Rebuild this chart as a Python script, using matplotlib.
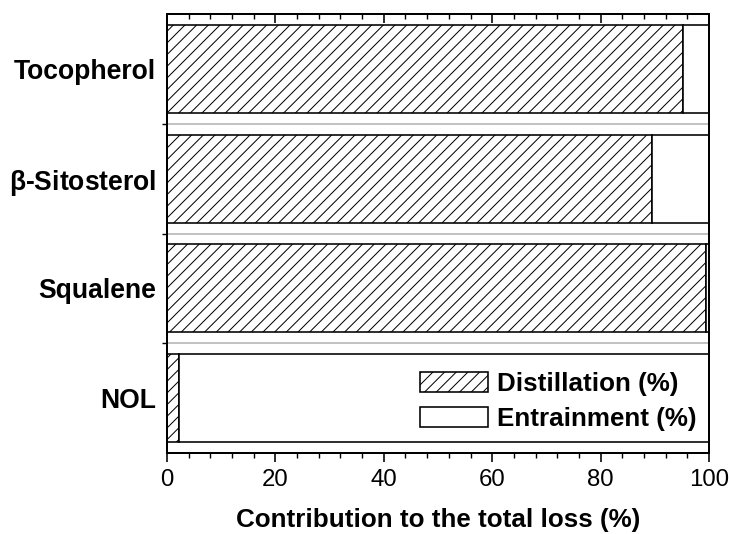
import numpy as np
import matplotlib
matplotlib.use("Agg")
import matplotlib.pyplot as plt
from matplotlib.ticker import MultipleLocator, FixedLocator

# data (bottom to top)
compounds = ['NOL', 'Squalene', r'$\mathbf{\beta}$-Sitosterol', 'Tocopherol']
distillation = np.array([2.3, 99.5, 89.4, 95.2])
entrainment = 100 - distillation
series_names = ['Distillation (%)', 'Entrainment (%)']

DPI = 140


def pt(px):
    # pixel size -> points for this dpi
    return px * 72.0 / DPI


plt.rcParams['hatch.linewidth'] = pt(1.0)
plt.rcParams['font.family'] = ['Liberation Sans', 'DejaVu Sans']
plt.rcParams['mathtext.fontset'] = 'custom'
plt.rcParams['mathtext.bf'] = 'Liberation Sans:bold'
plt.rcParams['mathtext.rm'] = 'Liberation Sans'

fig = plt.figure(figsize=(729 / DPI, 534 / DPI), dpi=DPI)
ax = fig.add_axes([167 / 729, 1 - 453 / 534, 542 / 729, 439 / 534])

y = np.arange(len(compounds))
ax.barh(y, distillation, height=0.8, color='white', edgecolor='black',
        hatch='////', linewidth=pt(1.6), label=series_names[0], zorder=3)
ax.barh(y, entrainment, left=distillation, height=0.8, color='white',
        edgecolor='black', linewidth=pt(1.6), label=series_names[1], zorder=3)

# light separators between categories
for b in y[:-1] + 0.5:
    ax.axhline(b, color='#b4b4b4', lw=pt(1.6), zorder=1)

ax.set_xlim(0, 100)
ax.set_ylim(-0.5, len(compounds) - 0.5)

ax.xaxis.set_major_locator(MultipleLocator(20))
ax.xaxis.set_minor_locator(MultipleLocator(4))
ax.tick_params(axis='x', which='major', direction='out', length=pt(9),
               width=pt(1.6), pad=pt(7), labelsize=pt(24))
ax.tick_params(axis='x', which='minor', direction='out', length=pt(5),
               width=pt(1.4))

# top ticks point inward
top = ax.secondary_xaxis('top')
top.xaxis.set_major_locator(MultipleLocator(20))
top.xaxis.set_minor_locator(MultipleLocator(4))
top.tick_params(which='major', direction='in', length=pt(9), width=pt(1.6),
                labeltop=False)
top.tick_params(which='minor', direction='in', length=pt(5), width=pt(1.4))
top.spines['top'].set_linewidth(pt(2))

ax.set_yticks(y)
ax.set_yticklabels(compounds, fontsize=pt(26.5), fontweight='bold')
ax.yaxis.set_minor_locator(FixedLocator(y[:-1] + 0.5))
ax.tick_params(axis='y', which='major', length=0, pad=pt(11))
ax.tick_params(axis='y', which='minor', direction='out', length=pt(5),
               width=pt(1.4))

for s in ax.spines.values():
    s.set_linewidth(pt(2))
    s.set_zorder(5)

ax.set_xlabel('Contribution to the total loss (%)', fontsize=pt(26),
              fontweight='bold', labelpad=pt(17))

ax.legend(loc='upper left', bbox_to_anchor=(253 / 542, 81 / 439),
          frameon=False, prop={'weight': 'bold', 'size': pt(26)},
          handlelength=68 / 26, handleheight=0.8, handletextpad=0.34,
          labelspacing=0.44, borderpad=0, borderaxespad=0)

fig.savefig('out.png', dpi=DPI)
